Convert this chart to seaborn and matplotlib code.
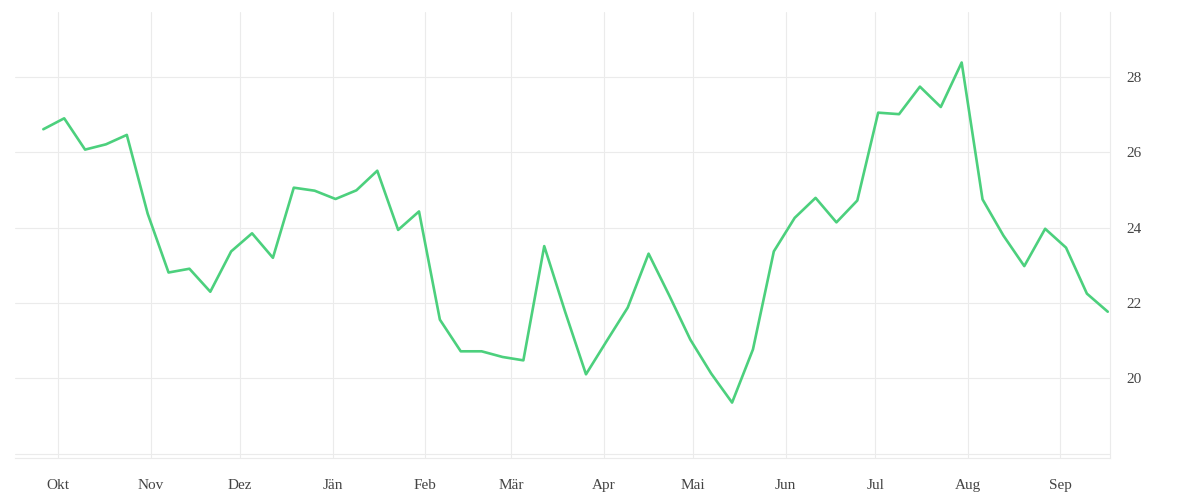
import pandas as pd
import numpy as np
import matplotlib
matplotlib.use('Agg')
import matplotlib.pyplot as plt
import matplotlib.dates as mdates
import seaborn as sns

# Wochenwerte (Sep 2019 - Sep 2020)
start_date = "2019-09-26"
values = [26.61, 26.90, 26.07, 26.21, 26.46, 24.37, 22.81, 22.91, 22.30, 23.37,
          23.85, 23.20, 25.06, 24.98, 24.76, 24.99, 25.51, 23.94, 24.43, 21.56,
          20.72, 20.72, 20.57, 20.48, 23.51, 21.77, 20.11, 21.00, 21.88, 23.31,
          22.19, 21.03, 20.13, 19.36, 20.77, 23.37, 24.26, 24.79, 24.14, 24.72,
          27.05, 27.01, 27.74, 27.20, 28.38, 24.75, 23.79, 22.98, 23.97, 23.47,
          22.25, 21.77]
month_labels = ["Okt", "Nov", "Dez", "Jän", "Feb", "Mär", "Apr", "Mai",
                "Jun", "Jul", "Aug", "Sep"]
y_ticks = [20, 22, 24, 26, 28]

dates = pd.date_range(start_date, periods=len(values), freq="7D")
df = pd.DataFrame({"date": dates, "value": values})

sns.set_theme(style="white")
plt.rcParams['font.family'] = ['Liberation Serif', 'DejaVu Serif']

grid_col = "#ebebeb"
fig = plt.figure(figsize=(12, 5), dpi=100)
ax = fig.add_axes([0.0125, 0.084, 0.9125, 0.892])

sns.lineplot(data=df, x="date", y="value", color="#4cd07d", linewidth=1.9, ax=ax)

# Achsen
ax.set_xlim(pd.Timestamp("2019-09-16 12:00"), pd.Timestamp("2020-09-17 18:00"))
ax.set_ylim(17.89, 29.72)

month_ticks = pd.date_range("2019-10-01", periods=12, freq="MS")
ax.set_xticks(month_ticks)
ax.set_xticklabels(month_labels)
ax.yaxis.tick_right()
ax.set_yticks(y_ticks)
ax.set_yticklabels([str(t) for t in y_ticks])

ax.grid(True, color=grid_col, linewidth=0.8)
ax.axhline(18, color=grid_col, linewidth=0.8, zorder=0)
ax.set_axisbelow(True)

for side in ["top", "left"]:
    ax.spines[side].set_visible(False)
ax.spines["bottom"].set_color(grid_col)
ax.spines["right"].set_color(grid_col)
ax.spines["bottom"].set_linewidth(0.8)
ax.spines["right"].set_linewidth(0.8)

ax.tick_params(axis="x", length=7, color=grid_col, width=0.8, pad=8,
               labelsize=11, labelcolor="#444444")
ax.tick_params(axis="y", length=0, pad=12, labelsize=11, labelcolor="#444444")

ax.set_xlabel("")
ax.set_ylabel("")

plt.savefig("out.png", dpi=100)
plt.close()
